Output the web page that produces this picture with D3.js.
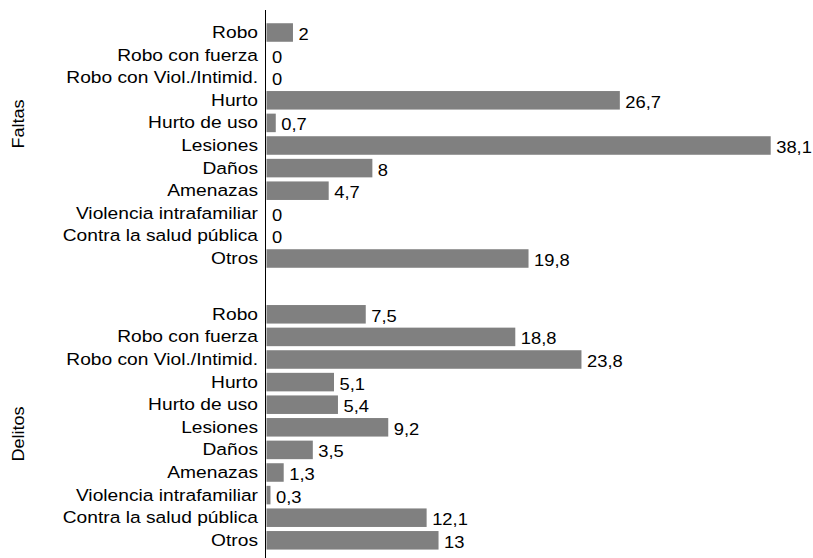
<!DOCTYPE html>
<html>
<head>
<meta charset="utf-8">
<script src="https://cdn.jsdelivr.net/npm/d3@7"></script>
<style>
  html, body { margin: 0; padding: 0; background: #fff; }
  text { font-family: "Liberation Sans", Arial, Helvetica, sans-serif; fill: #000; }
</style>
</head>
<body>
<svg id="chart" width="813" height="558"></svg>
<script>
const categories = ["Robo", "Robo con fuerza", "Robo con Viol./Intimid.", "Hurto", "Hurto de uso",
  "Lesiones", "Daños", "Amenazas", "Violencia intrafamiliar", "Contra la salud pública", "Otros"];
const groups = ["Faltas", "Delitos"];
const faltasValues = [2, 0, 0, 26.7, 0.7, 38.1, 8, 4.7, 0, 0, 19.8];
const delitosValues = [7.5, 18.8, 23.8, 5.1, 5.4, 9.2, 3.5, 1.3, 0.3, 12.1, 13];
const valuesByGroup = { "Faltas": faltasValues, "Delitos": delitosValues };

const fmt = v => String(v).replace(".", ",");
const SX = 1.13;  // reference font is a little wider than Liberation Sans
const SXV = 1.08; // value labels
const FS = 17;
const svg = d3.select("#chart");

const x = d3.scaleLinear().domain([0, 38.1]).range([266.5, 770.7]);

const groupRanges = { "Faltas": [21.2, 269.8], "Delitos": [303, 551.6] };
const groupLabelY = { "Faltas": 124, "Delitos": 434 };

groups.forEach(g => {
  const y = d3.scaleBand().domain(categories).range(groupRanges[g])
    .paddingInner(0.18).paddingOuter(0.09);
  const data = categories.map((c, i) => ({ c, v: valuesByGroup[g][i] }));
  const gg = svg.append("g");

  gg.selectAll("rect").data(data).join("rect")
    .attr("x", x(0))
    .attr("y", d => y(d.c))
    .attr("width", d => x(d.v) - x(0))
    .attr("height", y.bandwidth())
    .attr("fill", "#808080");

  gg.selectAll("text.cat").data(data).join("text")
    .attr("class", "cat")
    .attr("text-anchor", "end")
    .attr("font-size", FS)
    .attr("transform", d => `translate(258,${y(d.c) + y.bandwidth() / 2 + 5.5}) scale(${SX},1)`)
    .text(d => d.c);

  gg.selectAll("text.val").data(data).join("text")
    .attr("class", "val")
    .attr("font-size", FS)
    .attr("transform", d => `translate(${x(d.v) + 5.5},${y(d.c) + y.bandwidth() / 2 + 7.5}) scale(${SXV},1)`)
    .text(d => fmt(d.v));

  svg.append("text")
    .attr("text-anchor", "middle")
    .attr("font-size", 16)
    .attr("transform", `translate(24,${groupLabelY[g]}) rotate(-90) scale(${SX},1)`)
    .text(g);
});

svg.append("line")
  .attr("x1", 265.5).attr("x2", 265.5)
  .attr("y1", 10).attr("y2", 558)
  .attr("stroke", "#000").attr("stroke-width", 1);
</script>
</body>
</html>
